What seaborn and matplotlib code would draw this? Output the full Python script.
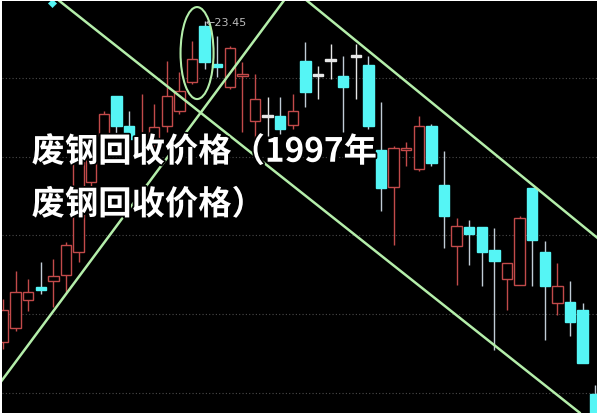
import matplotlib
matplotlib.use("Agg")
import matplotlib.pyplot as plt
import matplotlib.patheffects as pe
from matplotlib.patches import Ellipse
import numpy as np
import pandas as pd
import seaborn as sns

# daily candles, left to right
opens = [20.24, 20.38, 20.66, 20.79, 20.85, 20.91, 21.14, 21.84, 22.30, 22.70,
         22.40, 22.20, 22.27, 22.40, 22.55, 22.84, 23.40, 23.02, 22.79, 22.90,
         22.45, 22.51, 22.50, 22.41, 23.05, 22.92, 23.07, 22.90, 23.11, 23.01,
         22.16, 21.79, 22.16, 21.97, 22.40, 21.81, 21.20, 21.39, 21.39, 21.16,
         20.87, 20.81, 21.78, 21.14, 20.63, 20.64, 20.56, 19.72]
highs = [20.67, 20.95, 20.87, 21.04, 21.07, 21.24, 22.07, 22.27, 22.55, 22.70,
         22.55, 22.72, 22.62, 23.05, 22.94, 23.25, 23.45, 23.30, 23.20, 23.04,
         22.92, 22.69, 22.69, 22.72, 23.24, 23.00, 23.22, 23.10, 23.22, 23.10,
         22.64, 22.20, 22.24, 22.50, 22.42, 22.15, 21.48, 21.46, 21.39, 21.38,
         21.03, 21.50, 21.78, 21.25, 21.03, 20.85, 20.63, 19.81]
lows = [20.17, 20.35, 20.55, 20.72, 20.59, 20.74, 21.04, 21.79, 22.04, 22.30,
        22.17, 22.07, 22.12, 22.34, 22.52, 22.82, 22.97, 22.89, 22.77, 22.34,
        22.24, 22.30, 22.32, 22.37, 22.59, 22.67, 22.87, 22.34, 22.67, 22.37,
        21.55, 21.21, 22.00, 21.95, 22.00, 21.18, 20.81, 21.01, 20.80, 20.16,
        20.56, 20.81, 20.80, 20.26, 20.51, 20.30, 20.03, 19.27]
closes = [20.56, 20.74, 20.74, 20.76, 20.90, 21.21, 22.04, 22.24, 22.52, 22.40,
          22.27, 22.25, 22.39, 22.70, 22.75, 23.07, 23.04, 22.99, 23.18, 22.92,
          22.67, 22.49, 22.37, 22.55, 22.74, 22.90, 23.05, 22.79, 23.09, 22.40,
          21.78, 22.18, 22.18, 22.40, 22.03, 21.50, 21.40, 21.32, 21.14, 21.05,
          21.03, 21.48, 21.26, 20.80, 20.80, 20.44, 20.03, 19.37]
white_doji = [21, 25, 26, 28]

grid_levels = [22.88, 22.09, 21.31, 20.52, 19.73]

# hand-drawn trend lines (candle index, price)
trend_line = ["a", "a", "b", "b", "c", "c"]
trend_x = [4.29, 45.79, -0.24, 22.38, 23.97, 47.38]
trend_y = [23.67, 19.53, 19.83, 23.67, 23.67, 21.26]

peak_idx = 16
peak_text = "←23.45"
title_lines = ["废钢回收价格（1997年", "废钢回收价格）"]

RED = "#c24a4a"
CYAN = "#55f5f5"
WICK_DOWN = "#c0ccd6"
WHITE = "#e6e6e6"
GREEN = "#b4eeaa"

sns.set_theme(style="dark")
plt.rcParams["font.family"] = ["Noto Sans CJK SC", "DejaVu Sans"]

fig = plt.figure(figsize=(6.0, 4.14), dpi=100, facecolor="white")
ax = fig.add_axes([0.003, 0.0, 0.992, 0.995])
ax.set_facecolor("black")

df = pd.DataFrame({"open": opens, "high": highs, "low": lows, "close": closes})
df["idx"] = np.arange(len(df))
df["up"] = df["close"] > df["open"]

for i, r in df.iterrows():
    if i in white_doji:
        wick, face, edge = WHITE, WHITE, WHITE
    elif r["up"]:
        wick, face, edge = RED, "black", RED
    else:
        wick, face, edge = WICK_DOWN, CYAN, CYAN
    ax.vlines(r["idx"], r["low"], r["high"], color=wick, lw=1.0, zorder=1)
    lo = min(r["open"], r["close"])
    h = max(abs(r["close"] - r["open"]), 0.02)
    ax.bar(r["idx"], h, bottom=lo, width=0.82, color=face, edgecolor=edge,
           linewidth=1.0, zorder=2)

tl = pd.DataFrame({"line": trend_line, "x": trend_x, "y": trend_y})
sns.lineplot(data=tl, x="x", y="y", units="line", estimator=None,
             color=GREEN, lw=1.8, ax=ax, zorder=4)

ax.add_patch(Ellipse((15.4, 23.13), 2.62, 0.92, fill=False, edgecolor=GREEN,
                     lw=1.5, zorder=4))
sns.scatterplot(x=[3.89], y=[23.63], marker="D", s=18, color=CYAN,
                edgecolor=CYAN, ax=ax, zorder=4)

ax.text(peak_idx + 0.05, highs[peak_idx] - 0.01, peak_text, color="#bdbdbd",
        fontsize=8, va="center", ha="left", family=["DejaVu Sans"], zorder=5)

ax.set_xlim(-0.095, 47.14)
ax.set_ylim(19.53, 23.65)
ax.set_yticks(grid_levels)
ax.set_xticks([])
ax.set_yticklabels([])
ax.grid(axis="y", color="#4a4a4a", linestyle=(0, (1, 2)), linewidth=0.8)
ax.grid(axis="x", visible=False)
ax.set_xlabel("")
ax.set_ylabel("")
for s in ax.spines.values():
    s.set_visible(False)

stroke = [pe.withStroke(linewidth=2.5, foreground="black")]
ax.text(0.05, 0.633, title_lines[0], transform=ax.transAxes, color="white",
        fontsize=24, fontweight="bold", va="center", ha="left",
        path_effects=stroke, zorder=6)
ax.text(0.05, 0.505, title_lines[1], transform=ax.transAxes, color="white",
        fontsize=24, fontweight="bold", va="center", ha="left",
        path_effects=stroke, zorder=6)

fig.savefig("out.png", dpi=100, facecolor="white")
